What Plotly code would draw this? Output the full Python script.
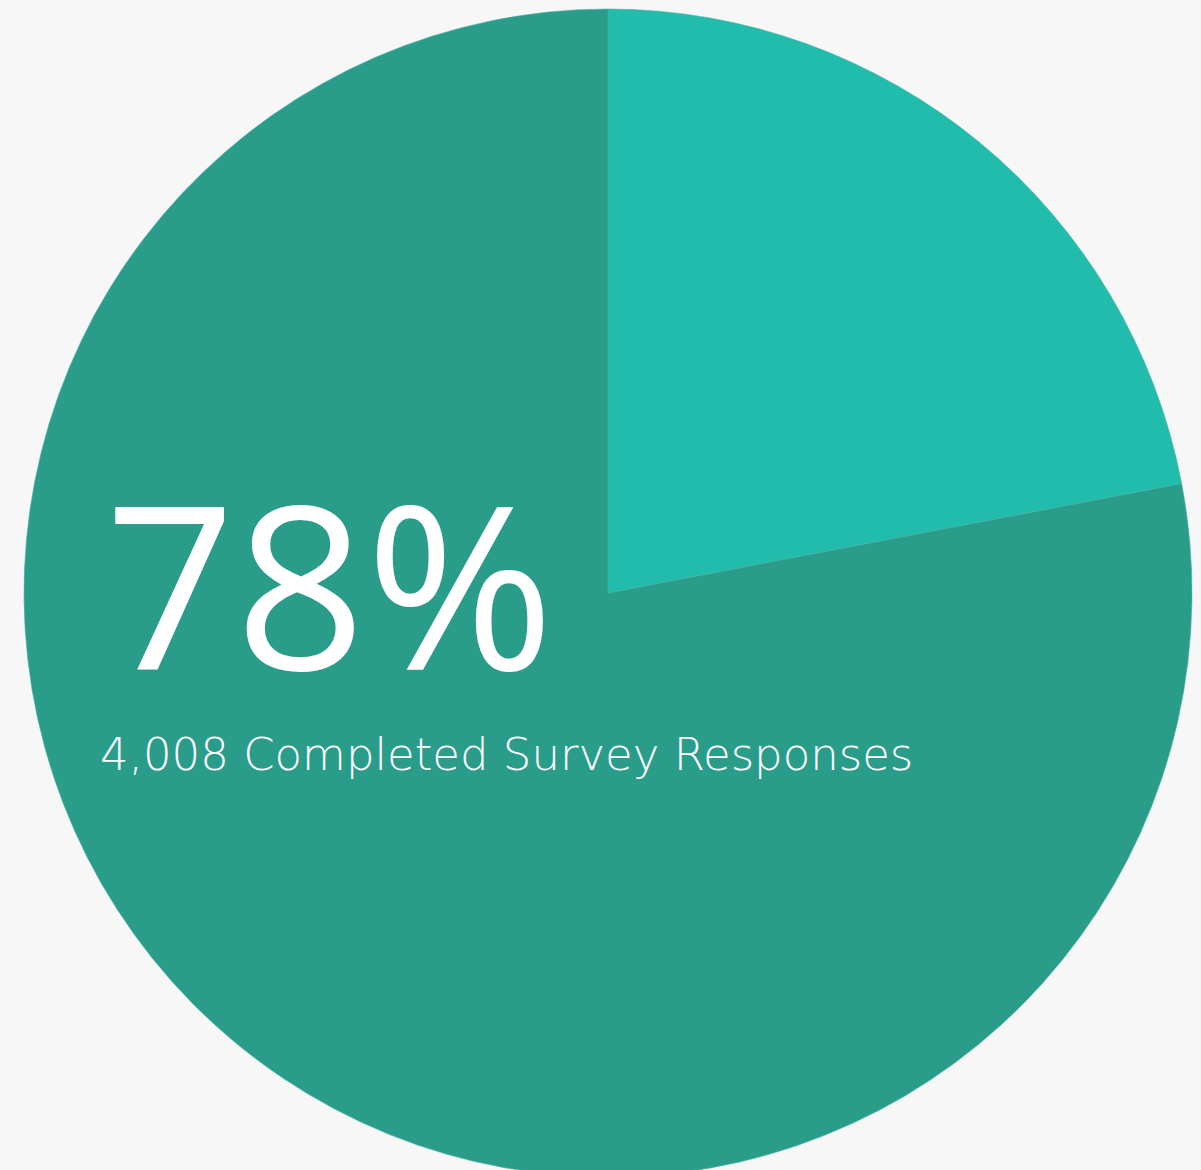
import plotly.graph_objects as go

labels = ["Other", "Completed Survey Responses"]
values = [22, 78]
colors = ["#22bcad", "#2a9c8a"]
completed_count = "4,008"

W, H = 1201, 1178
cx, cy, r = 608, 593, 584

fig = go.Figure(go.Pie(
    labels=labels,
    values=values,
    sort=False,
    direction="clockwise",
    rotation=0,
    marker=dict(colors=colors, line=dict(color="#45b3a3", width=0.6)),
    textinfo="none",
    hoverinfo="skip",
    showlegend=False,
    domain=dict(x=[(cx - r) / W, (cx + r) / W], y=[(H - cy - r) / H, (H - cy + r) / H]),
))

share = round(100 * values[1] / sum(values))
fig.add_annotation(
    text=f"{share}%", x=103 / W, y=(H - 581) / H, xref="paper", yref="paper",
    xanchor="left", yanchor="middle", showarrow=False, height=190,
    font=dict(family="Open Sans", size=228, color="white", weight=400),
)
fig.add_annotation(
    text=f"{completed_count} {labels[1]}", x=98 / W, y=(H - 754) / H, xref="paper", yref="paper",
    xanchor="left", yanchor="middle", showarrow=False, height=50,
    font=dict(family="DejaVu Sans", size=45, color="white", weight=300),
)

fig.update_layout(
    width=W, height=H,
    margin=dict(l=0, r=0, t=0, b=0),
    paper_bgcolor="#f7f7f7",
    plot_bgcolor="#f7f7f7",
)
fig.write_html("out.html")
